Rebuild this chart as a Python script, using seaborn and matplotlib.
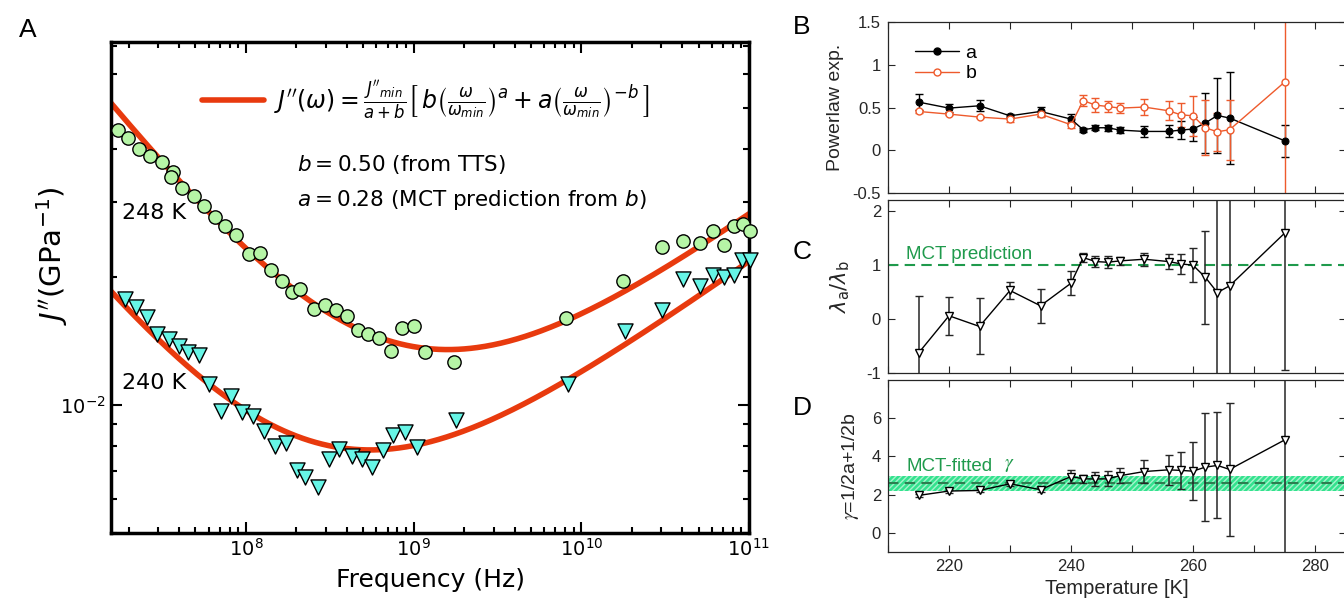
import numpy as np
import matplotlib
matplotlib.use("Agg")
import matplotlib.pyplot as plt
import seaborn as sns
from matplotlib.lines import Line2D
from matplotlib.ticker import (LogLocator, NullFormatter, FixedLocator,
                               FixedFormatter, MultipleLocator, FuncFormatter)

# ---------------- data ----------------
# Panel A: J''(f) spectra at two temperatures
freq_248 = [1.72e7, 1.99e7, 2.32e7, 2.69e7, 3.15e7, 3.66e7, 3.59e7, 4.16e7, 4.88e7,
            5.63e7, 6.52e7, 7.56e7, 8.79e7, 1.04e8, 1.21e8, 1.41e8, 1.64e8, 1.89e8,
            2.10e8, 2.55e8, 2.96e8, 3.43e8, 3.99e8, 4.64e8, 5.38e8, 6.25e8, 7.35e8,
            8.53e8, 1.00e9, 1.17e9, 1.74e9, 8.13e9, 1.77e10, 3.04e10, 4.04e10,
            5.09e10, 6.11e10, 7.12e10, 8.10e10, 9.17e10, 1.02e11]
jpp_248 = [0.0444, 0.0424, 0.0400, 0.0386, 0.0372, 0.0354, 0.0344, 0.0324, 0.0310,
           0.0293, 0.0277, 0.0263, 0.0251, 0.0226, 0.0228, 0.0208, 0.0196, 0.0184,
           0.0187, 0.0168, 0.0172, 0.0167, 0.0162, 0.0150, 0.0147, 0.0144, 0.0134,
           0.0152, 0.0153, 0.0133, 0.0126, 0.0160, 0.0196, 0.0235, 0.0243,
           0.0241, 0.0257, 0.0238, 0.0263, 0.0266, 0.0257]

freq_240 = [1.90e7, 2.20e7, 2.56e7, 2.97e7, 3.46e7, 3.97e7, 4.51e7, 5.23e7, 6.06e7,
            8.10e7, 7.11e7, 9.50e7, 1.10e8, 1.28e8, 1.49e8, 1.74e8, 2.03e8, 2.26e8,
            2.70e8, 3.11e8, 3.61e8, 4.27e8, 4.93e8, 5.66e8, 6.59e8, 7.56e8, 8.83e8,
            1.05e9, 1.78e9, 8.32e9, 1.82e10, 3.04e10, 4.04e10, 5.09e10, 6.11e10,
            7.12e10, 8.10e10, 9.04e10, 1.02e11]
jpp_240 = [0.0178, 0.0170, 0.0161, 0.0147, 0.0143, 0.0138, 0.0133, 0.0131, 0.0112,
           0.0105, 0.00970, 0.00961, 0.00944, 0.00870, 0.00801, 0.00813, 0.00703,
           0.00678, 0.00640, 0.00745, 0.00789, 0.00759, 0.00746, 0.00714, 0.00784,
           0.00851, 0.00865, 0.00798, 0.00922, 0.0112, 0.0149, 0.0167, 0.0198,
           0.0191, 0.0202, 0.0200, 0.0202, 0.0219, 0.0219]

# interpolation-formula parameters
exp_a = 0.28
exp_b = 0.50
fmin_248, jmin_248 = 1.6e9, 0.0135
fmin_240, jmin_240 = 5.5e8, 0.00784

# Panels B-D: temperature dependence
temps = [215, 220, 225, 230, 235, 240, 242, 244, 246, 248, 252, 256, 258, 260, 262, 264, 266, 275]
a_vals = [0.563, 0.493, 0.52, 0.403, 0.454, 0.365, 0.24, 0.264, 0.264, 0.237, 0.221,
          0.221, 0.237, 0.249, 0.319, 0.407, 0.377, 0.113]
a_errs = [0.09, 0.05, 0.065, 0.02, 0.055, 0.06, 0.025, 0.03, 0.035, 0.03, 0.06, 0.07,
          0.105, 0.14, 0.355, 0.44, 0.535, 0.185]
b_vals = [0.454, 0.423, 0.388, 0.365, 0.423, 0.299, 0.581, 0.528, 0.512, 0.493, 0.505,
          0.462, 0.415, 0.403, 0.264, 0.217, 0.241, 0.795]
b_errs = [0.015, 0.015, 0.015, 0.03, 0.03, 0.035, 0.065, 0.078, 0.064, 0.058, 0.095,
          0.11, 0.14, 0.235, 0.32, 0.22, 0.35, 2.5]
lam_vals = [-0.636, 0.056, -0.142, 0.525, 0.241, 0.660, 1.136, 1.062, 1.049, 1.074,
            1.105, 1.062, 1.019, 0.994, 0.772, 0.487, 0.611, 1.587]
lam_errs = [1.05, 0.35, 0.52, 0.15, 0.31, 0.22, 0.09, 0.11, 0.11, 0.08, 0.12, 0.14,
            0.19, 0.32, 0.86, 4.0, 4.0, 2.53]
gam_vals = [1.96, 2.19, 2.22, 2.57, 2.26, 2.95, 2.83, 2.82, 2.83, 2.99, 3.21, 3.30,
            3.27, 3.23, 3.44, 3.53, 3.32, 4.86]
gam_errs = [0.1, 0.08, 0.1, 0.1, 0.1, 0.35, 0.22, 0.35, 0.4, 0.4, 0.62, 0.8, 0.97,
            1.52, 2.84, 2.77, 3.5, 7.0]
mct_ratio = 1.0
gamma_fit, gamma_lo, gamma_hi = 2.6, 2.2, 3.0

# ---------------- style ----------------
sns.set_theme(style="ticks")
plt.rcParams["font.family"] = ["DejaVu Sans"]
plt.rcParams["mathtext.fontset"] = "dejavusans"
plt.rcParams["text.color"] = "black"

FIT_RED = "#e83a0e"
CIRC_GREEN = "#b6f5a6"
TRI_CYAN = "#66f5e6"
B_RED = "#ee5a2c"
MCT_GREEN = "#1f9a4c"
GREY = "#262626"
SANS = ["Liberation Sans", "DejaVu Sans"]

W, H = 1344, 604
fig = plt.figure(figsize=(W / 100, H / 100), dpi=100)


def box(left, top, right, bottom):
    return [left / W, 1 - bottom / H, (right - left) / W, (bottom - top) / H]


# ---------------- panel A ----------------
axA = fig.add_axes(box(111, 42, 749, 533))
f_lo, f_hi = 1.57e7, 1.0e11


def jpp_model(f, jmin, fmin):
    x = np.asarray(f) / fmin
    return jmin / (exp_a + exp_b) * (exp_b * x ** exp_a + exp_a * x ** (-exp_b))


f_grid = np.logspace(np.log10(f_lo), np.log10(f_hi), 400)
sns.lineplot(x=f_grid, y=jpp_model(f_grid, jmin_248, fmin_248), color=FIT_RED,
             lw=4, ax=axA, zorder=2)
sns.lineplot(x=f_grid, y=jpp_model(f_grid, jmin_240, fmin_240), color=FIT_RED,
             lw=4, ax=axA, zorder=2)
sns.scatterplot(x=freq_248, y=jpp_248, marker="o", s=92, color=CIRC_GREEN,
                edgecolor="black", linewidth=1.0, ax=axA, zorder=3, clip_on=False)
sns.scatterplot(x=freq_240, y=jpp_240, marker="v", s=118, color=TRI_CYAN,
                edgecolor="black", linewidth=1.0, ax=axA, zorder=3, clip_on=False)

axA.set_xscale("log")
axA.set_yscale("log")
axA.set_xlim(f_lo, f_hi)
axA.set_ylim(5.0e-3, 7.14e-2)
axA.xaxis.set_major_locator(LogLocator(base=10, numticks=10))
axA.xaxis.set_minor_locator(LogLocator(base=10, subs=np.arange(2, 10), numticks=20))
axA.yaxis.set_major_locator(LogLocator(base=10, numticks=10))
axA.yaxis.set_minor_locator(LogLocator(base=10, subs=np.arange(2, 10), numticks=20))
axA.xaxis.set_minor_formatter(NullFormatter())
axA.yaxis.set_minor_formatter(NullFormatter())
axA.tick_params(which="both", direction="in", top=True, right=True, width=1.5,
                colors="black", labelsize=14)
axA.tick_params(which="major", length=8)
axA.tick_params(which="minor", length=4)
for sp in axA.spines.values():
    sp.set_linewidth(2.5)
    sp.set_color("black")
axA.set_xlabel("Frequency (Hz)", fontsize=18, color="black", labelpad=6)
axA.set_ylabel(r"$J''(\mathrm{GPa}^{-1})$", fontsize=21, color="black")
axA.yaxis.set_label_coords(-0.064, 0.564)

formula = (r"$J''(\omega) = \frac{J''_{min}}{a+b}\left[\,b\left(\frac{\omega}{\omega_{min}}"
           r"\right)^{a} + a\left(\frac{\omega}{\omega_{min}}\right)^{-b}\,\right]$")
axA.legend([Line2D([], [], color=FIT_RED, lw=4)], [formula], loc="upper left",
           bbox_to_anchor=(0.11, 0.97), frameon=False, fontsize=17,
           handlelength=2.6, handletextpad=0.45)
axA.text(0.2915, 0.7515, r"$b = 0.50$ (from TTS)", transform=axA.transAxes,
         fontsize=15.5, va="center", ha="left", color="black")
axA.text(0.2915, 0.678, r"$a = 0.28$ (MCT prediction from $b$)",
         transform=axA.transAxes, fontsize=15.5, va="center", ha="left", color="black")
axA.text(0.017, 0.652, "248 K", transform=axA.transAxes, fontsize=16,
         va="center", ha="left", color="black")
axA.text(0.017, 0.3055, "240 K", transform=axA.transAxes, fontsize=16,
         va="center", ha="left", color="black")


# ---------------- panels B-D ----------------
def style_small(ax, yticks, ylim, show_x):
    ax.set_xlim(210, 285)
    ax.set_ylim(*ylim)
    ax.xaxis.set_major_locator(MultipleLocator(10))
    ax.xaxis.set_major_formatter(
        FuncFormatter(lambda v, p: f"{int(round(v))}" if show_x and round(v) % 20 == 0 else ""))
    ax.yaxis.set_major_locator(FixedLocator(yticks))
    ax.yaxis.set_major_formatter(FixedFormatter([f"{t:g}" for t in yticks]))
    ax.tick_params(direction="in", top=True, right=True, length=5, width=0.8,
                   colors=GREY, labelsize=12, pad=5)
    for sp in ax.spines.values():
        sp.set_linewidth(0.9)
        sp.set_color(GREY)
    for lab in ax.get_xticklabels() + ax.get_yticklabels():
        lab.set_family(SANS)


axB = fig.add_axes(box(888, 21.7, 1345.5, 193.3))
axC = fig.add_axes(box(888, 200.2, 1345.5, 372.7))
axD = fig.add_axes(box(888, 380, 1345.5, 552))

# B: power-law exponents
axB.errorbar(temps, a_vals, yerr=a_errs, fmt="none", ecolor="black", elinewidth=1,
             capsize=3, capthick=1, zorder=2)
axB.errorbar(temps, b_vals, yerr=b_errs, fmt="none", ecolor=B_RED, elinewidth=1,
             capsize=3, capthick=1, zorder=2)
sns.lineplot(x=temps, y=a_vals, color="black", lw=1, marker="o", markersize=5,
             markerfacecolor="black", markeredgecolor="black", ax=axB, zorder=3)
sns.lineplot(x=temps, y=b_vals, color=B_RED, lw=1, marker="o", markersize=5,
             markerfacecolor="white", markeredgecolor=B_RED, markeredgewidth=1,
             ax=axB, zorder=3)
style_small(axB, [-0.5, 0, 0.5, 1, 1.5], (-0.5, 1.5), False)
axB.set_ylabel("Powerlaw exp.", fontsize=14, color=GREY, family=SANS, labelpad=6)
axB.legend([Line2D([], [], color="black", lw=1, marker="o", ms=5),
            Line2D([], [], color=B_RED, lw=1, marker="o", ms=5,
                   markerfacecolor="white", markeredgecolor=B_RED)],
           ["a", "b"], loc="upper left", bbox_to_anchor=(0.02, 0.97), frameon=False,
           prop={"family": SANS, "size": 14}, handlelength=2.3, handletextpad=0.3,
           labelspacing=0.15)

# C: exponent-parameter ratio
axC.axhline(mct_ratio, color=MCT_GREEN, lw=1.5, ls=(0, (5, 3)), zorder=1)
axC.errorbar(temps, lam_vals, yerr=lam_errs, fmt="none", ecolor=GREY, elinewidth=1.1,
             capsize=3, capthick=1, zorder=2)
sns.lineplot(x=temps, y=lam_vals, color="black", lw=1, marker="v", markersize=6,
             markerfacecolor="white", markeredgecolor="black", markeredgewidth=1,
             ax=axC, zorder=3)
style_small(axC, [-1, 0, 1, 2], (-1, 2.2), False)
axC.set_ylabel(r"$\lambda_\mathrm{a}/\lambda_\mathrm{b}$", fontsize=15, color=GREY,
               labelpad=10)
axC.text(213, 1.03, "MCT prediction", color=MCT_GREEN, fontsize=13.5, family=SANS,
         ha="left", va="bottom")

# D: gamma exponent
axD.axhspan(gamma_lo, gamma_hi, facecolor="#33e28e", edgecolor="#a6f3cc",
            hatch="//////", lw=0, zorder=0)
axD.axhline(gamma_fit, color="#2e7d50", lw=1.5, ls=(0, (5, 3)), zorder=1)
axD.errorbar(temps, gam_vals, yerr=gam_errs, fmt="none", ecolor=GREY, elinewidth=1.1,
             capsize=3, capthick=1, zorder=2)
sns.lineplot(x=temps, y=gam_vals, color="black", lw=1, marker="v", markersize=6,
             markerfacecolor="white", markeredgecolor="black", markeredgewidth=1,
             ax=axD, zorder=3)
style_small(axD, [0, 2, 4, 6], (-1, 8), True)
axD.set_xlabel("Temperature [K]", fontsize=14.5, color=GREY, family=SANS, labelpad=4)
axD.set_ylabel(r"$\gamma$=1/2a+1/2b", fontsize=14, color=GREY, family=SANS,
               math_fontfamily="stix", labelpad=8)
axD.text(213, 3.45, "MCT-fitted", color=MCT_GREEN, fontsize=13.5, family=SANS,
         ha="left", va="center")
axD.text(229.8, 3.6, r"$\gamma$", color=MCT_GREEN, fontsize=14, math_fontfamily="stix",
         ha="center", va="center")

# panel letters
for letter, (px, py) in {"A": (28, 30), "B": (802, 27), "C": (802, 252),
                         "D": (802, 408)}.items():
    fig.text(px / W, 1 - py / H, letter, fontsize=19, family=SANS, color="black",
             ha="center", va="center")

fig.savefig("out.png", dpi=100)
